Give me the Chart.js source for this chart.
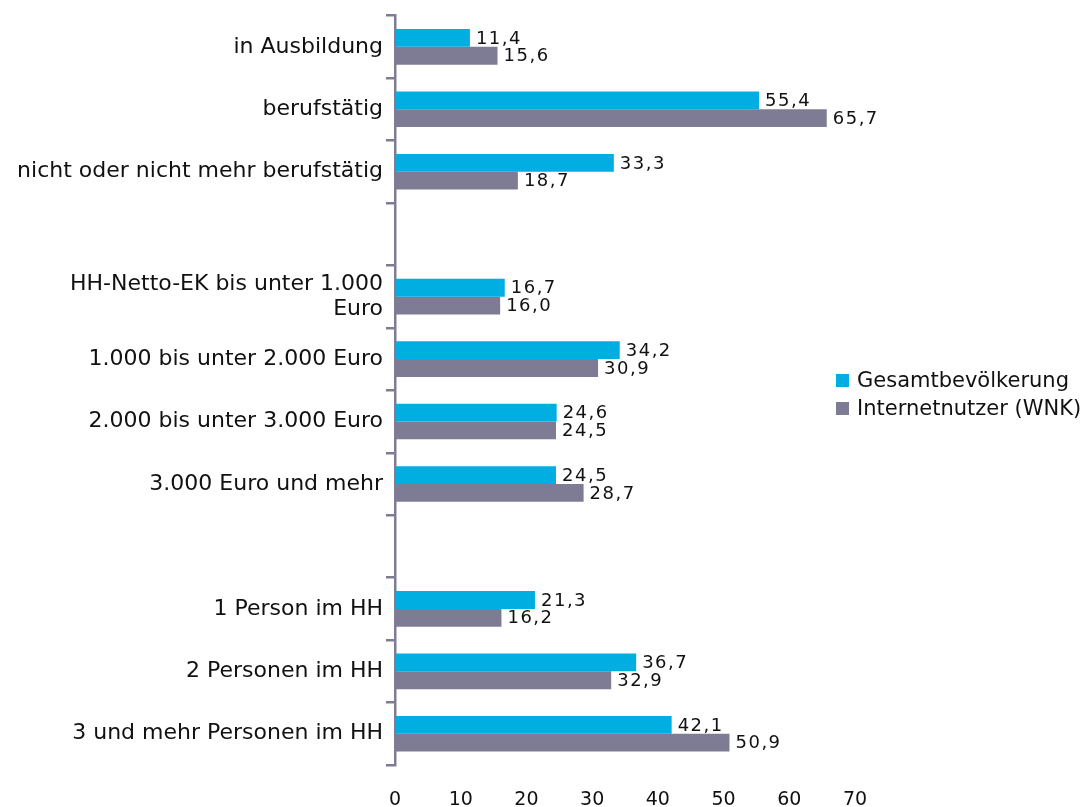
<!DOCTYPE html>
<html>
<head>
<meta charset="utf-8">
<script src="https://cdn.jsdelivr.net/npm/chart.js@4"></script>
<style>
  body { margin: 0; background: #fff; }
  #wrap { position: relative; width: 1088px; height: 807px; }
  #legend { position: absolute; left: 836px; top: 366px; font-family: "DejaVu Sans"; font-size: 21px; color: #111; }
  .item { display: flex; align-items: center; height: 28px; }
  .box { width: 13px; height: 13px; margin-right: 8px; }
</style>
</head>
<body>
<div id="wrap">
  <canvas id="chart" width="1088" height="807"></canvas>
  <div id="legend">
    <div class="item"><span class="box" style="background:#00AEE2"></span>Gesamtbevölkerung</div>
    <div class="item"><span class="box" style="background:#7E7C94"></span>Internetnutzer (WNK)</div>
  </div>
</div>
<script>
const categories = [
    'in Ausbildung',
    'berufstätig',
    'nicht oder nicht mehr berufstätig',
    '',
    ['HH-Netto-EK bis unter 1.000', 'Euro'],
    '1.000 bis unter 2.000 Euro',
    '2.000 bis unter 3.000 Euro',
    '3.000 Euro und mehr',
    '',
    '1 Person im HH',
    '2 Personen im HH',
    '3 und mehr Personen im HH'
];
const gesamt = [11.4, 55.4, 33.3, null, 16.7, 34.2, 24.6, 24.5, null, 21.3, 36.7, 42.1];
const internet = [15.6, 65.7, 18.7, null, 16.0, 30.9, 24.5, 28.7, null, 16.2, 32.9, 50.9];
const xTicks = [0, 10, 20, 30, 40, 50, 60, 70];

const blue = '#00AEE2';
const grey = '#7E7C94';

// value labels at the end of each bar
const valueLabels = {
    id: 'valueLabels',
    afterDatasetsDraw(chart) {
        const ctx = chart.ctx;
        ctx.save();
        ctx.font = '18px "DejaVu Sans"';
        ctx.letterSpacing = '1.5px';
        ctx.fillStyle = '#111';
        ctx.textBaseline = 'middle';
        chart.data.datasets.forEach((ds, i) => {
            chart.getDatasetMeta(i).data.forEach((bar, j) => {
                const v = ds.data[j];
                if (v === null) return;
                ctx.fillText(v.toFixed(1).replace('.', ','), bar.x + 6, bar.y + 1);
            });
        });
        ctx.restore();
    }
};

new Chart(document.getElementById('chart'), {
    type: 'bar',
    data: {
        labels: categories,
        datasets: [
            { label: 'Gesamtbevölkerung', data: gesamt, backgroundColor: blue },
            { label: 'Internetnutzer (WNK)', data: internet, backgroundColor: grey }
        ]
    },
    options: {
        indexAxis: 'y',
        responsive: false,
        animation: false,
        categoryPercentage: 0.57,
        barPercentage: 1.0,
        layout: { padding: { left: 0, right: 233, top: 15, bottom: 0 } },
        plugins: { legend: { display: false }, tooltip: { enabled: false } },
        scales: {
            x: {
                min: 0, max: 70,
                afterBuildTicks: s => { s.ticks = xTicks.map(v => ({ value: v })); },
                afterFit: s => { s.height = 42; },
                grid: { display: false, drawTicks: false },
                border: { display: false },
                ticks: { font: { family: 'DejaVu Sans', size: 19 }, color: '#111', padding: 24 }
            },
            y: {
                afterFit: s => { s.width = 395; },
                grid: { drawOnChartArea: false, drawTicks: true, tickLength: 9, color: grey, lineWidth: 2.5, offset: true },
                border: { display: true, color: grey, width: 2.5 },
                ticks: { font: { family: 'DejaVu Sans', size: 22, lineHeight: 1.15 }, color: '#111', padding: 3, autoSkip: false }
            }
        }
    },
    plugins: [valueLabels]
});
</script>
</body>
</html>
